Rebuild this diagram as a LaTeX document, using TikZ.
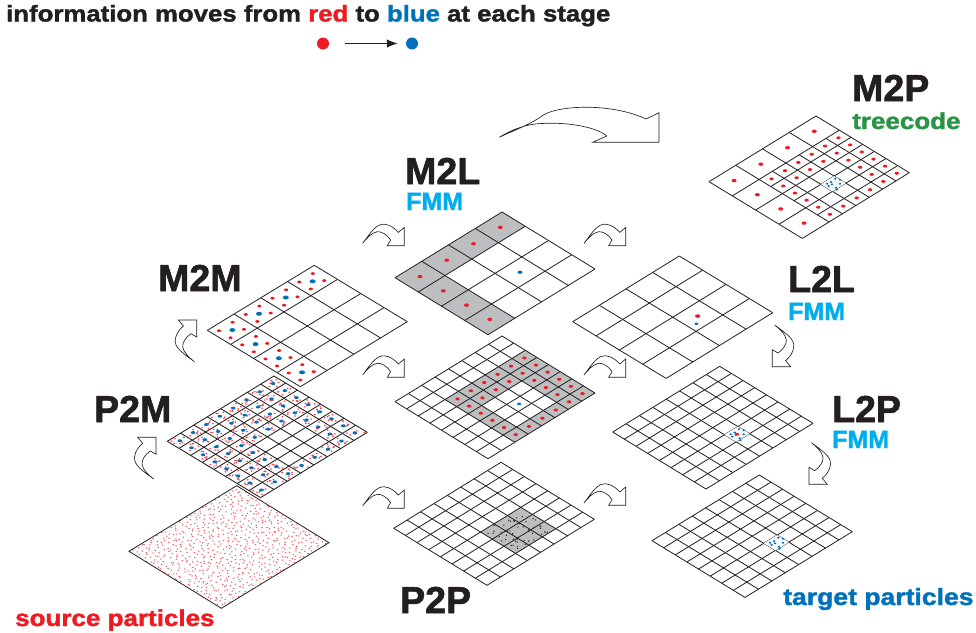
\documentclass[tikz,border=0pt]{standalone}
\usepackage{fontspec}
\newfontfamily\heavy[FakeBold=1.6]{Liberation Sans Bold}
\newfontfamily\heavywide[FakeBold=1.6,FakeStretch=1.13]{Liberation Sans Bold}
\definecolor{ink}{HTML}{231F20}
\definecolor{srcred}{HTML}{ED1C24}
\definecolor{tgtblue}{HTML}{0072BC}
\definecolor{cellgray}{HTML}{BCBEC0}
\definecolor{fmmcyan}{HTML}{00AEEF}
\definecolor{treegreen}{HTML}{2A9445}
\usetikzlibrary{arrows.meta}
\tikzset{
  gridframe/.style n args={7}{shift={(#1,#2)},
    x={({(#3-#1)/#7*1pt},{-(#4-#2)/#7*1pt})},
    y={({(#5-#3)/#7*1pt},{-(#6-#4)/#7*1pt})}},
  frameM2M/.style={gridframe={207.3}{330.3}{314.3}{265.3}{407.3}{321.7}{4}},
  frameP2M/.style={gridframe={167.3}{441.3}{274}{376}{367.3}{432.3}{8}},
  frameSRC/.style={gridframe={129}{551.3}{236.7}{485.7}{329}{542.7}{1}},
  frameM2L/.style={gridframe={395}{277.7}{502}{212}{595}{269}{4}},
  frameMID/.style={gridframe={395}{401.7}{502}{336}{595}{393}{8}},
  frameP2P/.style={gridframe={393.7}{528.3}{501}{462.3}{594.3}{519.3}{8}},
  frameM2P/.style={gridframe={709}{181.7}{816}{116}{909.3}{172.7}{8}},
  frameL2L/.style={gridframe={572.7}{321.7}{679.3}{256}{772.7}{312.7}{4}},
  frameL2P/.style={gridframe={612.7}{432}{719.7}{366.3}{813}{423.3}{8}},
  frameTGT/.style={gridframe={652}{540.7}{759.3}{475}{852.3}{531.7}{8}},
  gridline/.style={draw=ink,line width=0.8pt,line join=miter},
  bendarrow/.style={draw=ink,fill=white,line width=0.65pt,line join=miter},
  stagelabel/.style={anchor=base west,inner sep=0pt,text=ink,font=\heavy\fontsize{37.5}{37.5}\selectfont},
  fmmlabel/.style={anchor=base west,inner sep=0pt,text=fmmcyan,font=\heavy\fontsize{25}{25}\selectfont},
  notelabel/.style={anchor=base west,inner sep=0pt,font=\heavywide\fontsize{23}{23}\selectfont},
}
\newcommand{\gridLines}[1]{%
  \foreach \k in {0,...,#1}{\draw[gridline] (\k,0)--(\k,#1); \draw[gridline] (0,\k)--(#1,\k);}}
\newcommand{\whiteBack}[1]{\fill[white] (0,0)--(#1,0)--(#1,#1)--(0,#1)--cycle;}
\newcommand{\graycell}[2]{\fill[cellgray] (#1,#2)--(#1+1,#2)--(#1+1,#2+1)--(#1,#2+1)--cycle;}
\newcommand{\reddot}[2]{\fill[srcred] (#1,#2) ellipse[x radius=2.5pt,y radius=1.7pt];}
\newcommand{\reddotfine}[2]{\fill[srcred] (#1,#2) ellipse[x radius=2.2pt,y radius=1.5pt];}
\newcommand{\cluster}{%
  \foreach \dx/\dy in {-6.3/0,-2.3/-1.7,2/-5,6.7/-4,6.7/0,2.7/4,3.3/6,-4.7/2.3,-1.3/0.6}
    {\fill[tgtblue] ([xshift=\dx pt,yshift=-\dy pt]4.5,5.5) ellipse[x radius=1.4pt,y radius=1.1pt];}}
\newcommand{\ringdots}{%
  \foreach \i in {2,...,7}{\foreach \j in {2,...,7}{%
    \pgfmathtruncatemacro\blank{(\i>2)*(\i<6)*(\j>3)*(\j<7)}%
    \ifnum\blank=0 \reddotfine{\i+0.5}{\j+0.5}\fi}}}
% local shape: origin is the outer corner of the head
\newcommand{\smallbend}{%
  \draw[bendarrow] (-41.7,-2.3) .. controls (-33,-14) and (-28,-22) .. (-20,-21.5)
    .. controls (-14,-21) and (-9,-17) .. (-6,-13.3) -- (0,-18.3) -- (0,0) -- (-17,0) -- (-13.7,-5.7)
    .. controls (-17,-11) and (-23,-14.5) .. (-27,-14) .. controls (-33,-13) and (-38,-7) .. (-41.7,-2.3) -- cycle;}
\begin{document}
\begin{tikzpicture}[x=1pt,y=-1pt]
\useasboundingbox (0,0) rectangle (976,632);
\pgfmathsetseed{4711}
% title and legend
\node[anchor=base west,inner sep=0pt,text=ink,font=\heavywide\fontsize{22.8}{22.8}\selectfont] (title) at (6,21.5)
  {information moves from \textcolor{srcred}{red} to \textcolor{tgtblue}{blue} at each stage};
\node[circle,fill=srcred,inner sep=0pt,minimum size=12pt] (legendRed) at (323,43.5) {};
\node[circle,fill=tgtblue,inner sep=0pt,minimum size=12pt] (legendBlue) at (412,43.5) {};
\draw[ink,line width=1.2pt,-{Latex[length=11pt,width=8.5pt]},shorten <=16pt,shorten >=8pt] (legendRed) -- (legendBlue);
% source particles
\begin{scope}[frameSRC]
  \whiteBack{1}
  \foreach \i in {0,...,25}{\foreach \j in {0,...,25}{%
    \pgfmathsetmacro\px{(\i+0.1+0.8*rnd)/26}\pgfmathsetmacro\py{(\j+0.1+0.8*rnd)/26}%
    \fill[srcred!75] (\px,\py) ellipse[x radius=0.85pt,y radius=0.7pt];}}
  \draw[gridline] (0,0)--(1,0)--(1,1)--(0,1)--cycle;
\end{scope}
% P2M
\begin{scope}[frameP2M]
  \whiteBack{8}
  \foreach \i in {0,...,7}{\foreach \j in {0,...,7}{%
    \pgfmathtruncatemacro\blank{(\i>2)*(\i<6)*(\j>3)*(\j<7)}%
    \ifnum\blank=0
      \foreach \n in {1,...,7}{%
        \pgfmathsetmacro\px{\i+0.12+0.76*rnd}\pgfmathsetmacro\py{\j+0.12+0.76*rnd}%
        \fill[srcred!85] (\px,\py) ellipse[x radius=1pt,y radius=0.8pt];}
      \fill[tgtblue] (\i+0.5,\j+0.5) ellipse[x radius=2.3pt,y radius=1.5pt];
    \fi}}
  \foreach \k in {0,...,8}{\draw[gridline,line width=0.85pt] (\k,0)--(\k,8); \draw[gridline,line width=0.85pt] (0,\k)--(8,\k);}
\end{scope}
% M2M
\begin{scope}[frameM2M]
  \whiteBack{4}
  \gridLines{4}
  \foreach \i/\j in {0/0,1/0,2/0,3/0,0/1,0/2,0/3}{%
    \coordinate (c) at (\i+0.5,\j+0.5);
    \fill[tgtblue] ([yshift=-0.8pt]c) ellipse[x radius=3pt,y radius=2pt];
    \foreach \dx/\dy in {-13.3/0.7,11.7/-0.7,0.3/-7.7,-1.7/7.7}
      {\fill[srcred] ([xshift=\dx pt,yshift=-\dy pt-0.8pt]c) ellipse[x radius=2.1pt,y radius=1.4pt];}}
\end{scope}
% M2L coarse
\begin{scope}[frameM2L]
  \whiteBack{4}
  \foreach \i/\j in {0/0,1/0,2/0,3/0,0/1,0/2,0/3}{\graycell{\i}{\j}}
  \gridLines{4}
  \foreach \i/\j in {0/0,1/0,2/0,3/0,0/1,0/2,0/3}{\reddot{\i+0.5}{\j+0.5}}
  \fill[tgtblue] (2.5,2.5) ellipse[x radius=2.5pt,y radius=1.6pt];
\end{scope}
% M2L fine
\begin{scope}[frameMID]
  \whiteBack{8}
  \foreach \i in {2,...,7}{\foreach \j in {2,...,7}{%
    \pgfmathtruncatemacro\blank{(\i>2)*(\i<6)*(\j>3)*(\j<7)}%
    \ifnum\blank=0 \graycell{\i}{\j}\fi}}
  \gridLines{8}
  \ringdots
  \fill[tgtblue] (4.5,5.5) ellipse[x radius=2pt,y radius=1.3pt];
\end{scope}
% P2P
\begin{scope}[frameP2P]
  \whiteBack{8}
  \fill[cellgray] (3,4)--(6,4)--(6,7)--(3,7)--cycle;
  \gridLines{8}
  \foreach \n in {1,...,50}{%
    \pgfmathsetmacro\px{3.1+2.8*rnd}\pgfmathsetmacro\py{4.1+2.8*rnd}%
    \fill[ink] (\px,\py) circle[radius=0.7pt];}
\end{scope}
% M2P
\begin{scope}[frameM2P]
  \whiteBack{8}
  \foreach \k in {0,2,4,6,8}{\draw[gridline] (\k,0)--(\k,8); \draw[gridline] (0,\k)--(8,\k);}
  \foreach \k in {3,5,7}{\draw[gridline] (\k,2)--(\k,8); \draw[gridline] (2,\k)--(8,\k);}
  \foreach \i/\j in {0/0,2/0,4/0,6/0,0/2,0/4,0/6}{\reddot{\i+1}{\j+1}}
  \ringdots
  \fill[white] (4,5)--(5,5)--(5,6)--(4,6)--cycle;
  \cluster
\end{scope}
% L2L
\begin{scope}[frameL2L]
  \whiteBack{4}
  \gridLines{4}
  \fill[srcred] (2.5,2.5) ellipse[x radius=2.7pt,y radius=1.8pt];
  \fill[tgtblue] ([xshift=-1.3pt,yshift=-7.7pt]2.5,2.5) ellipse[x radius=2pt,y radius=1.2pt];
\end{scope}
% L2P
\begin{scope}[frameL2P]
  \whiteBack{8}
  \gridLines{8}
  \fill[white] (4,5)--(5,5)--(5,6)--(4,6)--cycle;
  \cluster
  \fill[srcred] (4.5,5.5) ellipse[x radius=2.1pt,y radius=1.4pt];
\end{scope}
% target particles
\begin{scope}[frameTGT]
  \whiteBack{8}
  \gridLines{8}
  \fill[white] (4,5)--(5,5)--(5,6)--(4,6)--cycle;
  \cluster
\end{scope}
% bent arrows pointing right
\foreach \cx/\cy in {404.3/245.7,404.3/377.3,404.3/508.3,625.7/245.7,625.7/377.3,625.7/505.3}
  {\begin{scope}[shift={(\cx,\cy)}]\smallbend\end{scope}}
% bent arrows pointing down
\foreach \cx/\cy in {772.3/366.7,809/484.3}
  {\begin{scope}[shift={(\cx,\cy)},x={(0pt,-1pt)},y={(-1pt,0pt)}]\smallbend\end{scope}}
% bent arrows pointing up
\foreach \cx/\cy in {196.7/320,156/437.3}
  {\begin{scope}[shift={(\cx,\cy)},x={(0pt,1pt)},y={(1pt,0pt)}]\smallbend\end{scope}}
% large bent arrow
\draw[bendarrow] (499.3,137.3) .. controls (512,131) and (530,125) .. (543.3,115)
  .. controls (560,105) and (612,103) .. (646,119) -- (659,112.7) -- (659,142.3) -- (592.7,142.3) -- (606.7,136)
  .. controls (597,127) and (565,121) .. (535,124) .. controls (520,126) and (508,132) .. (499.3,137.3) -- cycle;
% labels
\node[stagelabel] (labelM2P) at (852,101) {M2P};
\node[notelabel,text=treegreen,font=\heavywide\fontsize{23}{23}\selectfont] (labelTree) at (852,129) {treecode};
\node[stagelabel] (labelM2L) at (405,184) {M2L};
\node[fmmlabel] (labelFMMa) at (406,210) {FMM};
\node[stagelabel] (labelM2M) at (158,291) {M2M};
\node[stagelabel] (labelP2M) at (94,422) {P2M};
\node[stagelabel] (labelL2L) at (788,292) {L2L};
\node[fmmlabel] (labelFMMb) at (788,320) {FMM};
\node[stagelabel] (labelL2P) at (832,422) {L2P};
\node[fmmlabel] (labelFMMc) at (832,448) {FMM};
\node[stagelabel] (labelP2P) at (400,613) {P2P};
\node[notelabel,text=srcred] (labelSrc) at (15,626) {source particles};
\node[notelabel,text=tgtblue,font=\heavywide\fontsize{23.5}{23.5}\selectfont] (labelTgt) at (783,605) {target particles};
\end{tikzpicture}
\end{document}
